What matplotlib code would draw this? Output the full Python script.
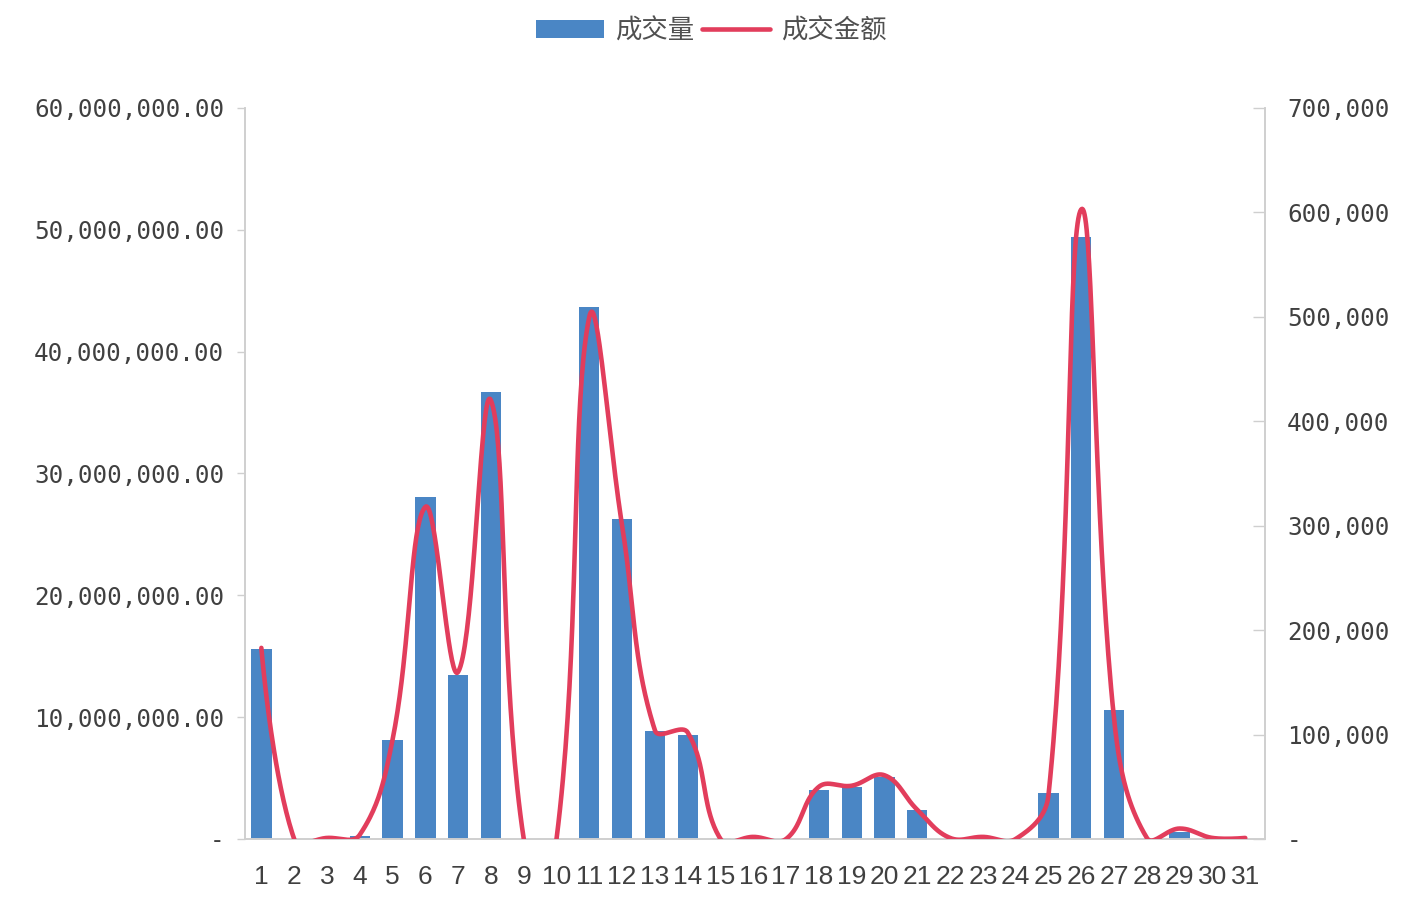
import numpy as np
import matplotlib
matplotlib.use("Agg")
import matplotlib.pyplot as plt
from matplotlib.ticker import FuncFormatter, FixedLocator

# ---- data ----
days = list(range(1, 32))
volume = [15.6e6, 0, 0, 0.25e6, 8.1e6, 28.1e6, 13.5e6, 36.7e6, 0, 0,
          43.7e6, 26.3e6, 8.9e6, 8.5e6, 0.1e6, 0, 0, 4.0e6, 4.3e6, 5.1e6,
          2.4e6, 0, 0, 0, 3.8e6, 49.4e6, 10.6e6, 0.1e6, 0.6e6, 0, 0]
amount = [183e3, 0, 1e3, 4e3, 95e3, 318e3, 160e3, 420e3, 0, 0,
          500e3, 300e3, 104e3, 102e3, 0, 2e3, 0, 50e3, 51e3, 61e3,
          28e3, 1e3, 2e3, 0, 42e3, 603e3, 115e3, 1e3, 10e3, 1e3, 1e3]
left_ticks = [0, 10e6, 20e6, 30e6, 40e6, 50e6, 60e6]
right_ticks = [0, 100e3, 200e3, 300e3, 400e3, 500e3, 600e3, 700e3]
legend_labels = ["成交量", "成交金额"]

BAR = "#4a86c5"
LINE = "#e23d5c"
TXT = "#404040"
SPINE = "#cfcfcf"


def smooth_screen(P, t=0.4, n=40):
    """Excel-like smoothing in screen space (chord-length weighted Bezier)."""
    P = np.asarray(P, float)
    m = len(P)
    before = P.copy()
    after = P.copy()
    for i in range(1, m - 1):
        d01 = np.hypot(*(P[i] - P[i - 1]))
        d12 = np.hypot(*(P[i + 1] - P[i]))
        s = d01 + d12
        if s == 0:
            continue
        v = P[i + 1] - P[i - 1]
        before[i] = P[i] - t * d01 / s * v
        after[i] = P[i] + t * d12 / s * v
    out = []
    for i in range(m - 1):
        p1, p2 = P[i], P[i + 1]
        c1, c2 = after[i], before[i + 1]
        u = np.linspace(0, 1, n, endpoint=(i == m - 2))[:, None]
        out.append(((1 - u) ** 3) * p1 + 3 * ((1 - u) ** 2) * u * c1
                   + 3 * (1 - u) * u ** 2 * c2 + u ** 3 * p2)
    return np.vstack(out)


plt.rcParams['font.family'] = ['DejaVu Sans']

fig = plt.figure(figsize=(14.2, 9.0), dpi=100)
ax = fig.add_axes([0.1725, 0.0678, 0.7183, 0.8122])
ax2 = ax.twinx()

ax.set_xlim(0.5, 31.6)
ax.set_ylim(0, 60e6)
ax2.set_ylim(0, 700e3)

bars = ax.bar(days, volume, width=0.62, color=BAR, zorder=2)

# smooth line computed in screen space through the data points
pts_px = ax2.transData.transform(np.column_stack([days, amount]))
curve_px = smooth_screen(pts_px)
curve = ax2.transData.inverted().transform(curve_px)
line, = ax2.plot(curve[:, 0], curve[:, 1], color=LINE, lw=3.3,
                 solid_capstyle='round', zorder=3)

ax.yaxis.set_major_locator(FixedLocator(left_ticks))
ax2.yaxis.set_major_locator(FixedLocator(right_ticks))
ax.yaxis.set_major_formatter(FuncFormatter(lambda v, p: "-" if v == 0 else f"{v:,.2f}"))
ax2.yaxis.set_major_formatter(FuncFormatter(lambda v, p: "-" if v == 0 else f"{v:,.0f}"))

ax.set_xticks(days)
ax.set_xticklabels([str(d) for d in days], family=['Liberation Sans'], fontsize=19, color=TXT)
ax.tick_params(axis='x', length=0, pad=19)
ax.tick_params(axis='y', direction='out', length=6, width=1, color=SPINE,
               labelsize=17.5, labelcolor=TXT, pad=9)
ax2.tick_params(axis='y', direction='in', length=9, width=1, color=SPINE,
                labelsize=17.5, labelcolor=TXT, pad=16)
for lab in ax.get_yticklabels() + ax2.get_yticklabels():
    lab.set_family(['DejaVu Sans Mono'])

for a in (ax, ax2):
    a.spines['top'].set_visible(False)
    for s in ('left', 'right', 'bottom'):
        a.spines[s].set_color(SPINE)
        a.spines[s].set_linewidth(1.2)
ax2.set_zorder(ax.get_zorder() + 1)
ax2.patch.set_visible(False)

fig.legend([bars, line], legend_labels, loc='center', bbox_to_anchor=(0.5007, 0.9656),
           ncol=2, frameon=False, prop={'family': ['Noto Sans CJK SC', 'DejaVu Sans'], 'size': 19},
           labelcolor='#505050', handlelength=2.6, handleheight=0.7, handletextpad=0.4,
           columnspacing=0.3)

fig.savefig("out.png", dpi=100, facecolor='white')
